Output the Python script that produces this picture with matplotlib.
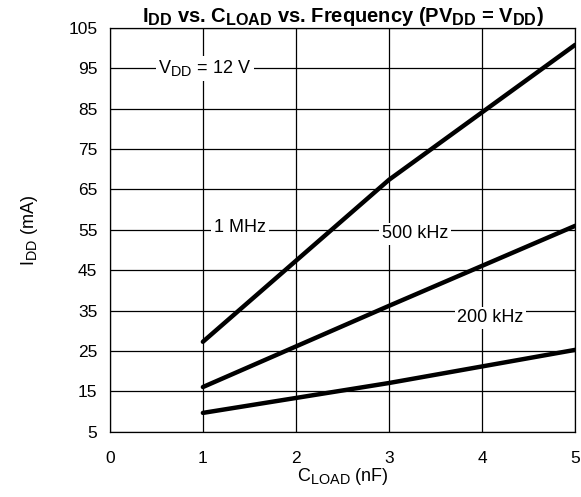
import matplotlib
matplotlib.use('Agg')
import matplotlib.pyplot as plt
import matplotlib._mathtext as mt

plt.rcParams['font.family'] = ['Liberation Sans', 'DejaVu Sans']
plt.rcParams['mathtext.default'] = 'regular'
mt.SHRINK_FACTOR = 0.8  # subscripts a bit bigger, like the datasheet

# data
c_load = [1, 3, 5]
i_1mhz = [27.3, 67.4, 100.8]
i_500khz = [16.1, 36.2, 56.0]
i_200khz = [9.7, 17.1, 25.3]

x_ticks = [0, 1, 2, 3, 4, 5]
y_ticks = [5, 15, 25, 35, 45, 55, 65, 75, 85, 95, 105]

fig = plt.figure(figsize=(5.81, 4.97), dpi=100)
ax = fig.add_axes([0.189, 0.131, 0.801, 0.813])

for ys in (i_1mhz, i_500khz, i_200khz):
    ax.plot(c_load, ys, color='black', lw=3.2, solid_capstyle='round', zorder=3)

ax.set_xlim(0, 5)
ax.set_ylim(5, 105)
ax.set_xticks(x_ticks)
ax.set_yticks(y_ticks)
ax.tick_params(axis='y', length=0, labelsize=12.5, pad=9)
ax.tick_params(axis='x', length=0, labelsize=12.5, pad=14)
ax.grid(True, color='black', lw=0.9)
for s in ax.spines.values():
    s.set_linewidth(0.9)

box = dict(facecolor='white', edgecolor='none', pad=2)
fs = 13
ax.text(1.02, 95, r'V$_{DD}$ = 12 V', fontsize=fs, ha='center', va='center', bbox=box, zorder=2)
ax.text(1.4, 55.5, '1 MHz', fontsize=fs, ha='center', va='center', bbox=box, zorder=2)
ax.text(3.28, 54, '500 kHz', fontsize=fs, ha='center', va='center', bbox=box, zorder=2)
ax.text(4.09, 33.2, '200 kHz', fontsize=fs, ha='center', va='center', bbox=box, zorder=2)

ax.set_title(r'I$_{DD}$ vs. C$_{LOAD}$ vs. Frequency (PV$_{DD}$ = V$_{DD}$)',
             fontsize=14.5, fontweight='bold', pad=4)
ax.set_xlabel(r'C$_{LOAD}$ (nF)', fontsize=fs, labelpad=0)
ax.set_ylabel(r'I$_{DD}$ (mA)', fontsize=fs, labelpad=20)

fig.savefig('out.png', dpi=100)
